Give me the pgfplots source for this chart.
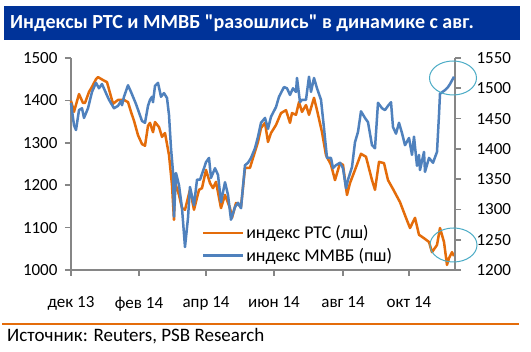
\documentclass[border=0pt]{standalone}
\usepackage{fontspec}
\setmainfont{Carlito}
\usepackage{pgfplots}
\pgfplotsset{compat=1.18}
\usepackage{pgfplotstable}
\definecolor{rtsorange}{RGB}{228,108,10}
\definecolor{mmvbblue}{RGB}{79,129,189}
\definecolor{axgray}{RGB}{134,134,134}
\definecolor{titleblue}{RGB}{0,51,153}
\definecolor{ringteal}{RGB}{75,172,198}

\pgfplotstableread{
x y
0 1399
3 1373
8 1415
12 1394
14 1394
18 1420
21 1432
25 1450
27 1455
32 1448
36 1443
42 1392
47 1401
53 1401
57 1396
60 1373
63 1352
67 1318
71 1297
74 1293
77 1340
79 1347
82 1325
84 1349
88 1337
91 1314
94 1323
98 1271
101 1200
103 1118
104 1207
108 1177
111 1146
114 1142
119 1189
123 1142
128 1189
131 1193
135 1236
139 1205
142 1193
145 1208
150 1146
154 1177
159 1146
161 1123
165 1158
170 1149
174 1241
179 1241
182 1264
187 1302
190 1335
194 1347
197 1302
200 1323
205 1342
210 1370
215 1377
219 1347
221 1370
225 1366
228 1396
231 1373
235 1389
238 1366
243 1406
246 1377
251 1325
255 1271
260 1248
264 1212
269 1252
272 1248
276 1177
279 1205
284 1236
290 1274
295 1267
301 1212
304 1189
308 1255
313 1252
317 1212
322 1191
329 1160
335 1123
339 1099
344 1123
348 1083
353 1075
358 1066
361 1042
366 1059
369 1099
373 1066
376 1012
378 1028
381 1042
383 1033
}\rts

\pgfplotstableread{
x y
0 1476
3 1439
5 1431
8 1464
11 1467
13 1451
17 1467
21 1494
25 1509
28 1500
31 1507
35 1492
38 1481
43 1467
47 1471
50 1479
51 1472
53 1486
57 1505
60 1494
65 1474
71 1446
74 1443
77 1471
79 1481
81 1486
82 1477
84 1504
87 1509
90 1486
93 1492
96 1484
98 1456
100 1401
102 1362
103 1288
105 1360
108 1340
111 1302
114 1238
117 1286
119 1337
123 1307
126 1349
129 1349
133 1368
135 1378
138 1385
140 1352
144 1368
147 1357
150 1312
154 1345
157 1324
160 1283
164 1304
167 1311
170 1302
174 1373
177 1377
180 1385
184 1401
187 1420
190 1443
194 1451
197 1433
200 1453
205 1469
208 1486
213 1502
216 1500
219 1489
222 1500
225 1494
226 1517
229 1477
231 1481
235 1481
236 1494
238 1519
240 1494
243 1517
246 1500
250 1481
253 1434
256 1385
260 1385
262 1368
265 1373
269 1377
272 1368
275 1335
277 1349
281 1370
284 1411
287 1428
290 1462
294 1451
297 1444
301 1406
304 1401
307 1476
311 1467
314 1464
317 1471
320 1477
322 1436
325 1425
328 1443
331 1426
334 1406
338 1418
341 1390
343 1420
346 1372
348 1390
349 1365
353 1395
354 1362
358 1385
362 1377
366 1395
368 1456
369 1491
374 1497
377 1502
379 1507
383 1519
}\mmvb

\begin{document}
\begin{tikzpicture}
\useasboundingbox (0pt,0pt) rectangle (531pt,352pt);
\fill[white] (0pt,0pt) rectangle (531pt,352pt);
\fill[titleblue] (4pt,346pt) rectangle (520pt,312pt);
\node[anchor=west, text=white, font=\bfseries\fontsize{20}{24}\selectfont, inner sep=0pt] at (10pt,328.5pt) {Индексы РТС и ММВБ \textquotedbl разошлись\textquotedbl{} в динамике с авг.};

\begin{axis}[
  at={(71pt,82pt)}, anchor=south west,
  scale only axis, width=384pt, height=212pt,
  xmin=0, xmax=384, ymin=1000, ymax=1500,
  axis y line*=left, axis x line*=bottom,
  axis line style={draw=axgray, line width=1.6pt},
  tick style={draw=axgray, line width=1.6pt},
  tick align=outside, major tick length=6pt,
  xtick={0,68,135,203,272,338},
  xticklabels={дек 13, фев 14, апр 14, июн 14, авг 14, окт 14},
  ytick={1000,1100,...,1500},
  /pgf/number format/assume math mode=true,
  /pgf/number format/1000 sep={},
  xticklabel style={font=\fontsize{17}{20}\selectfont, yshift=-17pt},
  yticklabel style={font=\fontsize{17}{20}\selectfont, xshift=-4pt},
  clip=false,
]
\addplot[rtsorange, line width=2.5pt, line join=round] table[x=x,y=y] {\rts};
\end{axis}

\begin{axis}[
  at={(71pt,82pt)}, anchor=south west,
  scale only axis, width=384pt, height=212pt,
  xmin=0, xmax=384, ymin=1200, ymax=1550,
  axis y line*=right, axis x line=none,
  axis line style={draw=axgray, line width=1.6pt},
  tick style={draw=axgray, line width=1.6pt},
  tick align=outside, major tick length=6pt,
  ytick={1200,1250,...,1550},
  /pgf/number format/assume math mode=true,
  /pgf/number format/1000 sep={},
  yticklabel style={font=\fontsize{17}{20}\selectfont, xshift=12pt},
  legend style={draw=none, fill=none, at={(rel axis cs:0.34,0.22)}, anchor=north west,
    font=\fontsize{18}{21}\selectfont, inner sep=0pt, row sep=4pt},
  legend cell align=left,
  legend image code/.code={\draw[#1] (0pt,0pt) -- (40pt,0pt);},
  clip=false,
]
\addlegendimage{rtsorange, line width=2.5pt}
\addlegendentry{индекс РТС (лш)}
\addplot[mmvbblue, line width=2.5pt, line join=round] table[x=x,y=y] {\mmvb};
\addlegendentry{индекс ММВБ (пш)}
\end{axis}

\draw[ringteal, line width=1pt] (453pt,274pt) ellipse (23.5pt and 17pt);
\draw[ringteal, line width=1pt] (453.5pt,107pt) ellipse (23.5pt and 17pt);

\draw[rtsorange, line width=2pt] (2pt,28pt) -- (519pt,28pt);
\node[anchor=west, font=\fontsize{19}{22}\selectfont, inner sep=0pt] at (7pt,16pt) {Источник: Reuters, PSB Research};
\end{tikzpicture}
\end{document}
